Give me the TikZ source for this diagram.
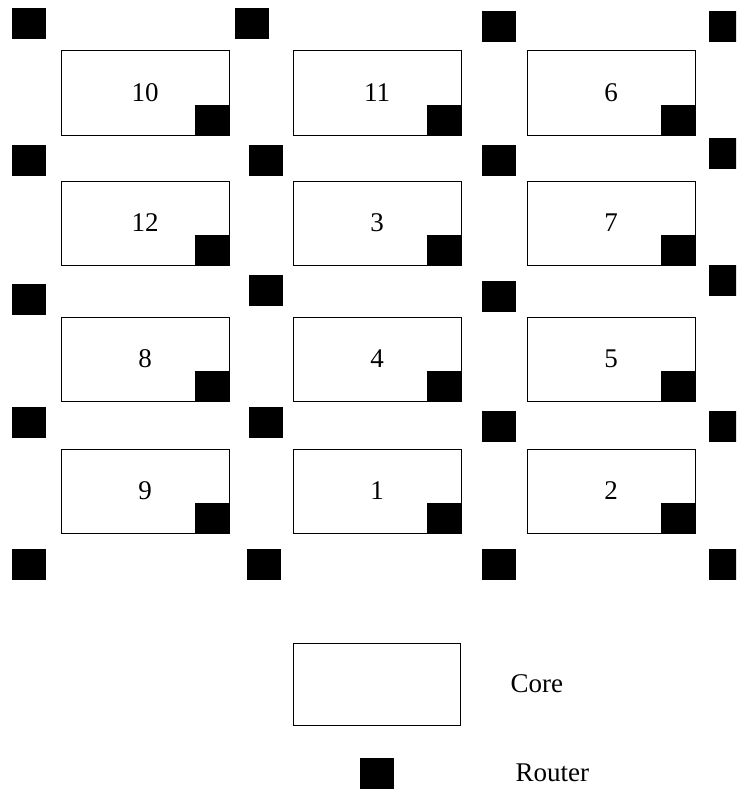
\documentclass[tikz,border=0pt]{standalone}
\usepackage{fontspec}
\setmainfont{Liberation Serif}
\tikzset{
	core/.style={draw,line width=1pt,minimum width=168pt,minimum height=84pt,inner sep=0pt,font=\fontsize{27}{30}\selectfont},
	router/.style={fill=black,inner sep=0pt,minimum width=34pt,minimum height=31pt},
	legtext/.style={font=\fontsize{27}{30}\selectfont,anchor=west}
}
\begin{document}
\begin{tikzpicture}[x=1pt,y=-1pt]
	\clip (0,0) rectangle (736,792);
	% cores with their local router
	\foreach \n/\x/\y in {10/145/93,11/377/93,6/611/93,12/145/223,3/377/223,7/611/223,8/145/359,4/377/359,5/611/359,9/145/491,1/377/491,2/611/491}{
		\node[core] (c\n) at (\x,\y) {\n};
		\node[router,minimum height=30pt,anchor=south east] (cr\n) at (c\n.south east) {};
	}
	% routers of the mesh
	\foreach \n/\x/\y in {a1/29/23.5,a2/29/160.5,a3/29/299.5,a4/29/422.5,a5/29/564.5,
		b1/252/23.5,b2/266/160.5,b3/266/290.5,b4/266/422.5,b5/264/564.5,
		c1/499/26.5,c2/499/160.5,c3/499/296.5,c4/499/426.5,c5/499/564.5,
		d1/726/26.5,d2/726/153.5,d3/726/280.5,d4/726/426.5,d5/726/564.5}
		\node[router] (r\n) at (\x,\y) {};
	% legend
	\node[core,minimum width=167pt,minimum height=82pt] (lcore) at (376.5,684) {};
	\node[legtext] (lcoretxt) at (507,684) {Core};
	\node[router] (lrouter) at (376.5,773) {};
	\node[legtext] (lroutertxt) at (512,773) {Router};
\end{tikzpicture}
\end{document}
